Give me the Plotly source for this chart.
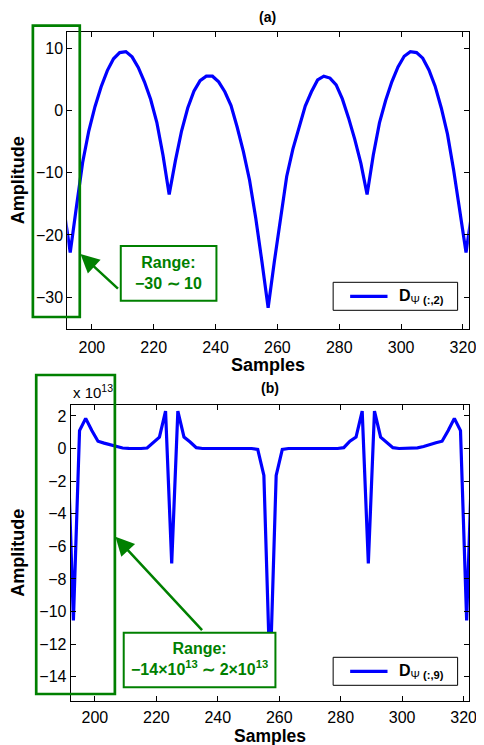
import plotly.graph_objects as go

# ---------------- data ----------------
samples = list(range(191, 324, 2))

amp_a = [-16.0, -22.8, -15.5, -8.4, -3.3, 0.6, 3.8, 6.4, 8.3, 9.3,
         9.45, 8.6, 6.9, 4.6, 1.8, -1.9, -7.2, -13.5, -8.1, -3.3,
         0.4, 3.1, 4.8, 5.5, 5.5, 4.6, 3.0, 0.8, -2.7, -6.6,
         -11.2, -17.3, -24.3, -31.7,
         -24.3, -17.0, -10.6, -6.2, -2.5, 0.7, 3.0, 4.9, 5.5, 5.2,
         4.1, 1.85, -1.2, -4.6, -8.5, -13.5, -7.2, -2.0, 1.6, 4.6,
         7.0, 8.7, 9.45, 9.3, 8.4, 6.5, 3.9, 0.4, -3.8, -9.6,
         -16.2, -22.8, -16.0]

# values in units of 1e13
amp_b = [1.1, -10.55, 1.1, 1.85, 1.1, 0.45, 0.33, 0.22, 0.1, 0.03,
         0.01, 0.0, 0.0, 0.03, 0.35, 0.7, 2.3, -7.05, 2.3, 0.7,
         0.4, 0.05, 0.0, 0.0, 0.0, 0.0, 0.0, 0.0, 0.0, 0.0,
         0.0, -0.06, -1.65, -14.05,
         -1.65, -0.06, 0.0, 0.0, 0.0, 0.0, 0.0, 0.0, 0.0, 0.0,
         0.0, 0.05, 0.45, 0.7, 2.3, -7.05, 2.3, 0.7, 0.35, 0.05,
         0.0, 0.0, 0.01, 0.04, 0.12, 0.25, 0.35, 0.45, 1.1, 1.85,
         1.1, -10.55, 1.1]

assert len(samples) == len(amp_a) == len(amp_b)

x_ticks = [200, 220, 240, 260, 280, 300, 320]
y_ticks_a = [-30, -20, -10, 0, 10]
y_ticks_b = [-14, -12, -10, -8, -6, -4, -2, 0, 2]

name_a = "<b>D</b><sub>Ψ <b>(:,2)</b></sub>"
name_b = "<b>D</b><sub>Ψ <b>(:,9)</b></sub>"

# ---------------- layout helpers ----------------
# the page body has an 8px margin, so the figure is placed at (8, 8)
OFF = 8
W, H = 484 - OFF, 745 - OFF
FONT = "Liberation Sans, Arial, Helvetica, sans-serif"
GREEN = "#008000"
BLUE = "#0000FF"


def px(x):
    return (x - OFF) / W


def py(y):
    return 1 - (y - OFF) / H


fig = go.Figure()
fig.add_trace(go.Scatter(x=samples, y=amp_a, mode="lines", name=name_a,
                         line=dict(color=BLUE, width=3.2),
                         xaxis="x", yaxis="y", showlegend=False))
fig.add_trace(go.Scatter(x=samples, y=amp_b, mode="lines", name=name_b,
                         line=dict(color=BLUE, width=3.2),
                         xaxis="x2", yaxis="y2", showlegend=False))

axis_common = dict(showline=True, linecolor="black", linewidth=1,
                   mirror="ticks", ticks="inside", ticklen=5,
                   tickcolor="black", showgrid=False, zeroline=False,
                   ticklabeloverflow="allow",
                   tickfont=dict(family=FONT, size=16, color="black"))

fig.update_layout(
    width=W, height=H, autosize=False,
    margin=dict(l=0, r=0, t=0, b=0),
    paper_bgcolor="white", plot_bgcolor="white",
    font=dict(family=FONT, color="black"),
    showlegend=False,
    xaxis=dict(domain=[px(68.3), px(476.7)], anchor="y",
               range=[192.05, 321.9], tickvals=x_ticks,
               ticklabelstandoff=4, **axis_common),
    yaxis=dict(domain=[py(329), py(32)], anchor="x",
               range=[-35.1, 12.6], tickvals=y_ticks_a, **axis_common),
    xaxis2=dict(domain=[px(71.7), px(477.3)], anchor="y2",
                range=[192.1, 321.9], tickvals=x_ticks,
                ticklabelstandoff=2, **axis_common),
    yaxis2=dict(domain=[py(700.7), py(405)], anchor="x2",
                range=[-15.47, 2.67], tickvals=y_ticks_b, **axis_common),
)

shapes = []
# green highlight rectangles and range boxes
for (x0, y0, x1, y1, w, fill) in [(33.3, 25.7, 81.0, 317.0, 2.7, None),
                                  (36.7, 375.0, 116.7, 694.0, 2.7, None),
                                  (122.7, 246.0, 220.0, 300.7, 2.0, "white"),
                                  (125.7, 632.7, 280.0, 687.3, 2.0, "white")]:
    shapes.append(dict(type="rect", xref="paper", yref="paper",
                       x0=px(x0), x1=px(x1), y0=py(y1), y1=py(y0),
                       line=dict(color=GREEN, width=w),
                       fillcolor=fill if fill else "rgba(0,0,0,0)",
                       layer="above"))

# legend boxes (one per panel)
legend_boxes = [(338.7, 282.3, 465.3, 310.3), (338.7, 657.3, 465.3, 685.3)]
for (x0, y0, x1, y1) in legend_boxes:
    shapes.append(dict(type="rect", xref="paper", yref="paper",
                       x0=px(x0), x1=px(x1), y0=py(y1), y1=py(y0),
                       line=dict(color="black", width=1),
                       fillcolor="white", layer="above"))
    ym = (y0 + y1) / 2
    shapes.append(dict(type="line", xref="paper", yref="paper",
                       x0=px(356), x1=px(394), y0=py(ym), y1=py(ym),
                       line=dict(color=BLUE, width=3.2), layer="above"))
fig.update_layout(shapes=shapes)

ann = []
# arrows
ann.append(dict(x=px(81.7), y=py(254), xref="paper", yref="paper",
                text="", showarrow=True, ax=39, ay=36,
                arrowhead=2, arrowsize=1.5, arrowwidth=2.5,
                arrowcolor=GREEN, standoff=0))
ann.append(dict(x=px(117.3), y=py(536.7), xref="paper", yref="paper",
                text="", showarrow=True, ax=88, ay=95,
                arrowhead=2, arrowsize=1.5, arrowwidth=2.5,
                arrowcolor=GREEN, standoff=0))


def txt(x, y, s, size, color="black", angle=0, xanchor="center"):
    return dict(x=px(x), y=py(y), xref="paper", yref="paper", text=s,
                showarrow=False, textangle=angle, xanchor=xanchor,
                yanchor="middle",
                font=dict(family=FONT, size=size, color=color))


ann.append(txt(272.3, 17, "<b>(a)</b>", 14))
ann.append(txt(274.3, 388.3, "<b>(b)</b>", 14))
ann.append(txt(272.5, 364.5, "<b>Samples</b>", 18))
ann.append(txt(274.5, 735.5, "<b>Samples</b>", 17.5))
ann.append(txt(18, 180.5, "<b>Amplitude</b>", 18, angle=-90))
ann.append(txt(18, 553, "<b>Amplitude</b>", 18, angle=-90))
ann.append(txt(71.7, 392, "x 10<sup>13</sup>", 15, xanchor="left"))
ann.append(txt(171.3, 273, "<b>Range:</b><br><b>−30 ∼ 10</b>", 16, GREEN))
ann.append(txt(202.9, 659,
               "<b>Range:</b><br>"
               "<b>−14×10<sup>13</sup> ∼ 2×10<sup>13</sup></b>", 16, GREEN))
# legend texts
ann.append(txt(404, 296.3, name_a, 16, xanchor="left"))
ann.append(txt(404, 671.3, name_b, 16, xanchor="left"))
fig.update_layout(annotations=ann)

fig.write_html("out.html")
